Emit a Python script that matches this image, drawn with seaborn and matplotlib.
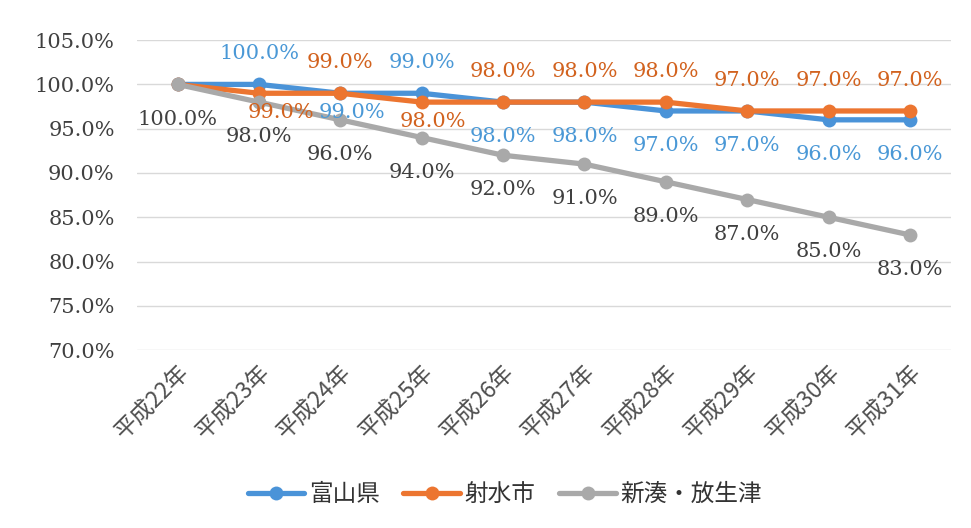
import matplotlib
matplotlib.use("Agg")
import matplotlib.pyplot as plt
import seaborn as sns
import pandas as pd

years = ["平成22年", "平成23年", "平成24年", "平成25年", "平成26年",
         "平成27年", "平成28年", "平成29年", "平成30年", "平成31年"]
toyama = [100, 100, 99, 99, 98, 98, 97, 97, 96, 96]
imizu = [100, 99, 99, 98, 98, 98, 98, 97, 97, 97]
shinminato = [100, 98, 96, 94, 92, 91, 89, 87, 85, 83]
series_names = ["富山県", "射水市", "新湊・放生津"]
yticks = [70, 75, 80, 85, 90, 95, 100, 105]

colors = ["#4A93D8", "#EC7530", "#A9A9A9"]
label_colors = ["#4A98D6", "#D2621E", "#404040"]
# label placement per point: 'a' above, 'b' below, 's' slightly below, None hidden
placements = [
    [None, 'a', 's', 'a', 'b', 'b', 'b', 'b', 'b', 'b'],
    [None, 's', 'a', 's', 'a', 'a', 'a', 'a', 'a', 'a'],
    ['b', 'b', 'b', 'b', 'b', 'b', 'b', 'b', 'b', 'b'],
]
xshift = [
    [0, 0, 8, 0, 0, 0, 0, 0, 0, 0],
    [0, 16, 0, 8, 0, 0, 0, 0, 0, 0],
    [0, 0, 0, 0, 0, 0, 0, 0, 0, 0],
]

sns.set_theme(style="white")
plt.rcParams['font.family'] = ['DejaVu Serif', 'Noto Sans CJK JP']

vals = [toyama, imizu, shinminato]
df = pd.DataFrame({
    "year": years * 3,
    "value": toyama + imizu + shinminato,
    "series": sum([[n] * len(years) for n in series_names], []),
})

fig = plt.figure(figsize=(9.71, 5.28), dpi=100)
ax = fig.add_axes([0.141, 0.337, 0.838, 0.587])

sns.lineplot(data=df, x="year", y="value", hue="series", hue_order=series_names,
             palette=colors, marker="o", markersize=10, markeredgewidth=0,
             linewidth=3.8, sort=False, ax=ax, legend=True)

ax.set_xlim(-0.5, len(years) - 0.5)
ax.set_ylim(70, 105)
ax.set_yticks(yticks)
ax.set_yticklabels([f"{v:.1f}%" for v in yticks], fontsize=15, color="#404040",
                   family=['DejaVu Serif'])
ax.set_xticks(range(len(years)))
ax.set_xticklabels(years, rotation=45, ha="right", rotation_mode="anchor",
                   fontsize=16.5, color="#505050", family=['Noto Sans CJK JP'])
ax.tick_params(axis="y", length=0, pad=16)
ax.tick_params(axis="x", length=0, pad=8)
ax.grid(axis="y", color="#D9D9D9", linewidth=1)
for s in ax.spines.values():
    s.set_visible(False)
ax.set_xlabel("")
ax.set_ylabel("")

offs = {'a': 22, 'b': -25, 's': -14}
for si, (vs, pl, xs) in enumerate(zip(vals, placements, xshift)):
    for i, (v, p, dx) in enumerate(zip(vs, pl, xs)):
        if p is None:
            continue
        ax.annotate(f"{v:.1f}%", xy=(i, v), xytext=(dx, offs[p]),
                    textcoords="offset points", ha="center", va="center",
                    fontsize=15, color=label_colors[si], family=['DejaVu Serif'])

handles, labels = ax.get_legend_handles_labels()
ax.legend_.remove()
leg = fig.legend(handles, labels, loc="center", bbox_to_anchor=(0.52, 0.063), ncol=3,
                 frameon=False, fontsize=17, handlelength=2.4, columnspacing=1.0,
                 handletextpad=0.2)
for t in leg.get_texts():
    t.set_color("#333333")
    t.set_family(['Noto Sans CJK JP'])

fig.savefig("out.png", dpi=100)
